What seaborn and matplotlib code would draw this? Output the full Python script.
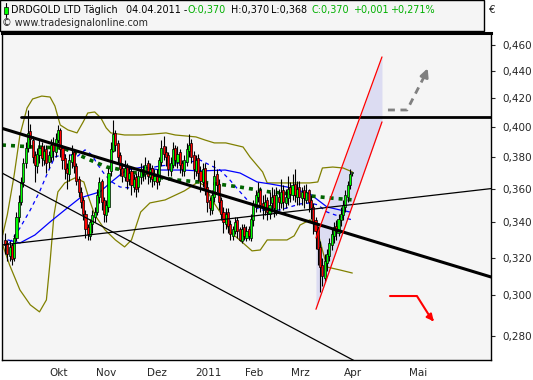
import matplotlib
matplotlib.use("Agg")
import matplotlib.pyplot as plt
import seaborn as sns
from matplotlib.ticker import FixedLocator, FuncFormatter, NullLocator
from matplotlib.patches import Rectangle

# DRDGOLD daily candles, bar 0 = early Sept 2010 ... bar 151 = 04.04.2011
opens = [
    .330, .328, .321, .327, .320, .331, .343, .352, .364, .376,
    .386, .397, .391, .381, .374, .381, .387, .378, .385, .377,
    .380, .389, .383, .391, .398, .386, .379, .373, .369, .377,
    .383, .374, .366, .358, .353, .345, .337, .332, .339, .343,
    .346, .355, .365, .353, .344, .349, .371, .384, .396, .389,
    .381, .373, .367, .374, .366, .371, .361, .367, .361, .367,
    .371, .369, .376, .367, .373, .365, .369, .365, .377, .387,
    .383, .381, .371, .375, .386, .377, .383, .376, .371, .377,
    .384, .389, .381, .371, .379, .371, .364, .373, .361, .353,
    .347, .355, .369, .363, .353, .346, .339, .346, .339, .332,
    .335, .341, .336, .329, .337, .331, .336, .331, .341, .349,
    .355, .359, .351, .347, .353, .345, .351, .356, .347, .355,
    .351, .359, .351, .354, .361, .356, .363, .355, .361, .354,
    .359, .353, .359, .353, .349, .341, .336, .326, .316, .309,
    .317, .321, .327, .332, .338, .334, .341, .344, .349, .355,
    .362, .370]
highs = [
    .334, .330, .329, .328, .333, .346, .356, .367, .379, .390,
    .412, .402, .394, .384, .386, .392, .390, .388, .388, .384,
    .392, .393, .396, .401, .399, .388, .382, .376, .382, .388,
    .385, .376, .368, .361, .355, .347, .339, .342, .347, .349,
    .360, .367, .366, .355, .353, .373, .390, .405, .398, .391,
    .383, .376, .378, .376, .374, .373, .369, .370, .371, .376,
    .375, .380, .378, .376, .375, .372, .372, .380, .391, .394,
    .387, .383, .380, .390, .388, .387, .385, .378, .381, .389,
    .395, .392, .384, .381, .382, .374, .376, .376, .364, .355,
    .359, .378, .372, .366, .355, .349, .348, .348, .341, .338,
    .343, .343, .337, .339, .339, .338, .338, .345, .353, .359,
    .364, .361, .356, .357, .355, .358, .361, .360, .361, .360,
    .366, .362, .360, .368, .364, .369, .372, .365, .365, .361,
    .362, .363, .360, .356, .351, .343, .338, .329, .320, .322,
    .325, .331, .336, .340, .341, .345, .349, .353, .359, .365,
    .372, .370]
lows = [
    .322, .318, .318, .316, .318, .329, .340, .350, .361, .373,
    .383, .386, .376, .364, .370, .376, .374, .375, .370, .373,
    .377, .378, .380, .389, .380, .372, .366, .360, .365, .373,
    .370, .362, .355, .348, .341, .331, .330, .330, .334, .340,
    .344, .351, .347, .340, .340, .346, .368, .383, .384, .376,
    .368, .364, .365, .360, .362, .356, .358, .355, .358, .363,
    .365, .366, .363, .364, .361, .362, .360, .362, .374, .378,
    .374, .368, .368, .373, .374, .373, .370, .368, .368, .374,
    .380, .376, .366, .368, .365, .358, .361, .356, .346, .344,
    .345, .352, .358, .347, .341, .334, .336, .334, .330, .330,
    .333, .331, .329, .328, .330, .329, .330, .329, .338, .346,
    .352, .346, .342, .344, .341, .342, .346, .343, .344, .347,
    .348, .347, .348, .350, .352, .353, .352, .350, .350, .350,
    .348, .351, .346, .342, .333, .325, .316, .302, .305, .307,
    .313, .318, .324, .328, .330, .332, .338, .341, .346, .352,
    .360, .368]
closes = [
    .327, .322, .326, .319, .331, .343, .352, .364, .376, .386,
    .396, .392, .380, .375, .382, .386, .379, .384, .376, .381,
    .388, .384, .392, .398, .385, .378, .372, .370, .378, .382,
    .374, .365, .358, .352, .345, .336, .333, .340, .344, .346,
    .356, .364, .352, .345, .350, .370, .385, .395, .388, .380,
    .372, .368, .373, .365, .370, .362, .366, .360, .368, .372,
    .370, .375, .368, .372, .366, .368, .364, .378, .386, .382,
    .380, .372, .376, .385, .378, .382, .375, .372, .378, .385,
    .388, .380, .372, .378, .370, .365, .372, .360, .352, .348,
    .356, .368, .362, .352, .345, .340, .345, .338, .333, .336,
    .340, .335, .330, .336, .332, .335, .332, .342, .350, .356,
    .358, .350, .348, .352, .346, .350, .355, .348, .356, .352,
    .358, .352, .355, .360, .357, .362, .356, .360, .355, .358,
    .354, .358, .352, .348, .340, .335, .325, .315, .310, .318,
    .322, .328, .333, .337, .335, .342, .345, .350, .356, .362,
    .369, .370]

# Bollinger bands
bb_upper_x = [-1, 1, 4, 6.5, 9.6, 12, 16, 19.6, 21.7, 24, 27.4, 31.3, 34, 36, 39, 41.7, 44, 46,
              52, 59, 65, 70, 74, 83, 87, 91, 96, 103.5, 106.5, 112, 114, 124, 132.5, 136, 138,
              142.5, 147, 151]
bb_upper = [.3326, .3442, .3685, .3945, .4131, .4195, .4216, .4209, .4145, .4013, .3979, .3959,
            .4034, .4096, .4103, .4061, .3993, .3959, .3945, .3945, .3952, .3959, .3945, .3932,
            .3911, .3892, .3892, .3865, .3800, .3704, .3635, .3635, .3635, .3641, .3729, .3735,
            .3729, .3704]
bb_lower_x = [-1, 2, 6.5, 11, 15, 18, 19.6, 21.3, 23, 26, 30.4, 34.3, 36, 39, 43.5, 48, 52, 55,
              59, 63, 69.6, 78, 84, 87, 90, 93.5, 98, 103.5, 107.4, 111, 114, 122.6, 125.7,
              128.3, 132.6, 135.2, 138, 140, 145.7, 151]
bb_lower = [.3270, .3160, .3028, .2952, .2917, .2977, .3177, .3442, .3580, .3635, .3666, .3641,
            .3562, .3442, .3355, .3298, .3259, .3298, .3459, .3513, .3531, .3586, .3641, .3616,
            .3531, .3459, .3343, .3281, .3237, .3242, .3298, .3298, .3321, .3383, .3413, .3383,
            .3242, .3149, .3133, .3117]
bb_mid_x = [2, 6.5, 11, 15, 18.7, 21.7, 24.8, 28.3, 31.7, 34.8, 37.8, 40.4, 43.5, 46.5, 50, 54.3,
            58.7, 63, 67.4, 71.7, 76, 80.4, 84.8, 89, 93.5, 97.8, 102.2, 106.5, 110.9, 115.2,
            119.6, 123.9, 128.3, 132.6, 136.1, 140, 143.5, 147.8, 151]
bb_mid = [.3281, .3366, .3471, .3580, .3704, .3800, .3813, .3813, .3806, .3846, .3813, .3748,
          .3685, .3641, .3610, .3604, .3685, .3729, .3742, .3748, .3761, .3767, .3780, .3748,
          .3716, .3653, .3580, .3513, .3471, .3471, .3471, .3489, .3507, .3513, .3501, .3459,
          .3442, .3424, .3413]
# moving averages
ma50_x = [1.3, 6.5, 13, 19.6, 26, 32.6, 41.3, 45.7, 50, 53, 60, 67.4, 77.4, 84.8, 95.7, 102.2,
          109.6, 115.2, 122.6, 128.3, 132.6, 136, 140, 145.7, 150]
ma50 = [.3298, .3281, .3326, .3401, .3471, .3543, .3580, .3635, .3685, .3716, .3735, .3716,
        .3716, .3710, .3716, .3697, .3641, .3629, .3610, .3586, .3568, .3531, .3489, .3471, .3459]
ma200_x = [-1.3, 12.2, 25.2, 37, 44.3, 51.3, 63, 74.8, 89, 102, 115, 128.3, 141.3, 151.3]
ma200 = [.3878, .3865, .3859, .3780, .3735, .3716, .3678, .3653, .3635, .3610, .3580, .3562,
         .3543, .3531]

# trend lines (bar, price) at both ends
trend_down_thick = ([-1.3, 211.3], [.3990, .3096])
trend_up_thin = ([-1.3, 211.3], [.3270, .3600])
trend_down_thin = ([-1.3, 211.3], [.3697, .2370])
resistance = ([6.8, 211.3], [.4065, .4065])
chan_upper = ([135.2, 163.9], [.3309, .4507])
chan_lower = ([135.2, 163.9], [.2930, .4034])

month_pos = [19.1, 39.6, 61.7, 82.6, 104.3, 124.3, 147.4, 175.7]
month_labels = ["Okt", "Nov", "Dez", "2011", "Feb", "Mrz", "Apr", "Mai"]
y_ticks = [.28, .30, .32, .34, .36, .38, .40, .42, .44, .46]

W, H = 533, 380
sns.set_style("white")
plt.rcParams["font.family"] = ["DejaVu Sans"]
fig = plt.figure(figsize=(W / 100, H / 100), dpi=100)
ax = fig.add_axes([2 / W, 20 / H, 489 / W, 327 / H])
ax.set_facecolor("#f5f5f5")
ax.set_yscale("log")
ax.set_xlim(-1.3, 211.3)
ax.set_ylim(0.2687, 0.4695)

# overlays behind candles
sns.lineplot(x=bb_upper_x, y=bb_upper, ax=ax, color="#808000", lw=0.9, sort=False)
sns.lineplot(x=bb_lower_x, y=bb_lower, ax=ax, color="#808000", lw=0.9, sort=False)
ax.plot(bb_mid_x, bb_mid, color="#0000ff", lw=0.9, dashes=(3, 3))
sns.lineplot(x=ma50_x, y=ma50, ax=ax, color="#0000ff", lw=0.9, sort=False)
ax.plot(ma200_x, ma200, color="#006400", lw=2.6, dashes=(1.1, 1.4), solid_capstyle="butt")

# regression channel
ax.fill_between(chan_upper[0], chan_lower[1], chan_upper[1], color="#dcdcf2", lw=0, zorder=1)
ax.plot(*chan_upper, color="#ff0000", lw=0.9, zorder=6)
ax.plot(*chan_lower, color="#ff0000", lw=0.9, zorder=6)

# candles
idx = list(range(len(closes)))
ax.vlines(idx, lows, highs, color="black", lw=0.8, zorder=3)
body_lo = [min(o, c) for o, c in zip(opens, closes)]
body_h = [max(abs(c - o), 0.0004) for o, c in zip(opens, closes)]
cols = ["#00ff00" if c >= o else "#ff0000" for o, c in zip(opens, closes)]
ax.bar(idx, body_h, bottom=body_lo, width=0.9, color=cols, edgecolor="black", lw=0.5, zorder=4)

# trend lines
ax.plot(*trend_down_thick, color="black", lw=2.2, zorder=5)
ax.plot(*trend_up_thin, color="black", lw=0.9, zorder=5)
ax.plot(*trend_down_thin, color="black", lw=0.9, zorder=5)
ax.plot(*resistance, color="black", lw=2.0, zorder=5)

# projection arrows
ax.plot([166.5, 174.8, 182.6], [.4117, .4117, .4370], color="#808080", lw=2, dashes=(2.5, 2))
ax.annotate("", xy=(184.2, .4440), xytext=(182.4, .4360),
            arrowprops=dict(arrowstyle="-|>", color="#808080", lw=2, mutation_scale=12))
ax.plot([167.4, 179.1, 185.5], [.2997, .2997, .2880], color="#ff0000", lw=1.5)
ax.annotate("", xy=(187.2, .2860), xytext=(185.0, .2890),
            arrowprops=dict(arrowstyle="-|>", color="#ff0000", lw=1.5, mutation_scale=10))

# axes styling
for s in ax.spines.values():
    s.set_color("black")
    s.set_linewidth(1)
ax.spines["top"].set_linewidth(2.2)
ax.yaxis.tick_right()
ax.yaxis.set_major_locator(FixedLocator(y_ticks))
ax.yaxis.set_minor_locator(NullLocator())
ax.yaxis.set_major_formatter(FuncFormatter(lambda v, p: f"{v:.3f}".replace(".", ",")))
ax.set_xticks(month_pos)
ax.set_xticklabels(month_labels, ha="left")
ax.tick_params(axis="y", which="major", length=3, width=0.8, pad=5, labelsize=7.5,
               right=True, left=False, labelright=True, labelleft=False)
ax.tick_params(axis="x", length=4, width=0.8, pad=2, labelsize=7.5)

# header box
def fx(px):
    return px / W

def fy(py):
    return 1 - py / H

fig.patches.append(Rectangle((0, fy(31)), fx(484), 31 / H, transform=fig.transFigure,
                             facecolor="#f5f5f5", edgecolor="black", lw=1, zorder=0))
fig.patches.append(Rectangle((fx(4), fy(14)), fx(4), 7 / H, transform=fig.transFigure,
                             facecolor="#00ff00", edgecolor="black", lw=0.5, zorder=2))
fig.lines.append(plt.Line2D([fx(6), fx(6)], [fy(3), fy(17)], transform=fig.transFigure,
                            color="black", lw=0.8, zorder=1))
green = "#00b000"
line1 = [(11, "DRDGOLD LTD Täglich", "black"), (126, "04.04.2011 -", "black"),
         (188, "O:0,370", green), (231, "H:0,370", "black"), (271, "L:0,368", "black"),
         (311, "C:0,370", green), (354, "+0,001", green), (391, "+0,271%", green)]
for px, txt, c in line1:
    fig.text(fx(px), fy(10), txt, color=c, fontsize=6.9, va="center", ha="left")
fig.text(fx(2), fy(23), "© www.tradesignalonline.com", fontsize=6.9, va="center", ha="left")
fig.text(fx(489), fy(10), "€", fontsize=7.5, va="center", ha="left")

fig.savefig("out.png", dpi=100, facecolor="white")
